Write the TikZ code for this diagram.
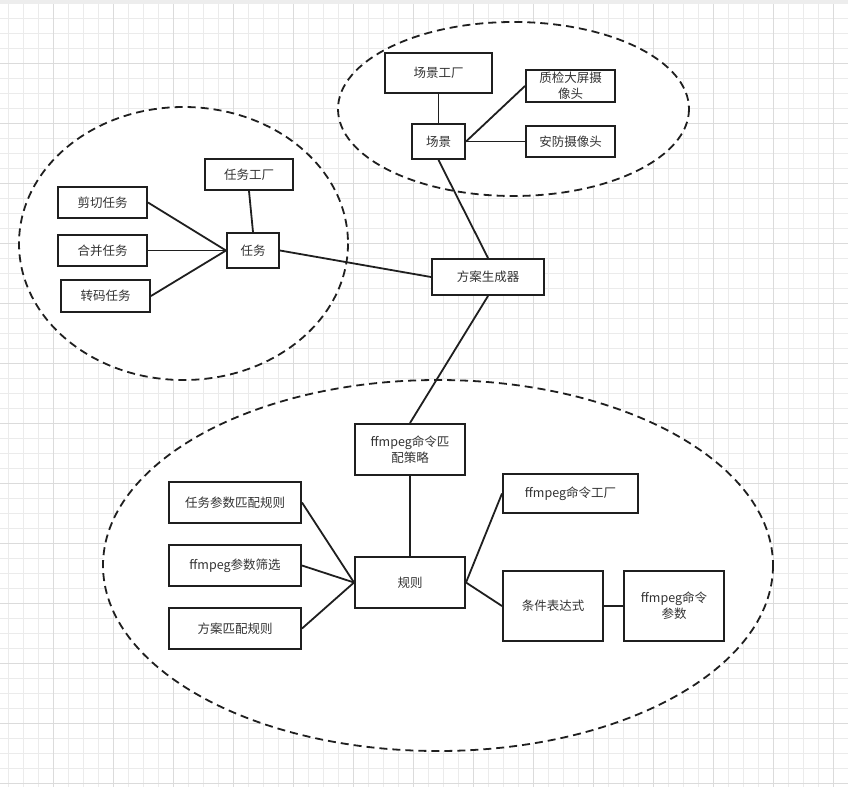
\documentclass[tikz,border=0pt]{standalone}
\usepackage{fontspec}
\setmainfont{Noto Sans CJK SC}
\begin{document}
\begin{tikzpicture}[x=1pt,y=-1pt,
  gridlight/.style={draw=black!8, line width=0.8pt},
  griddark/.style={draw=black!14, line width=0.8pt},
  box/.style={draw=black!88, line width=2pt, fill=white, inner sep=1pt, align=center,
    text=black!80, font=\fontsize{12.5}{16}\selectfont},
  link/.style={draw=black!88, line width=1.8pt},
  group/.style={draw=black!88, line width=1.8pt, dash pattern=on 8pt off 5pt}]
\useasboundingbox (0,0) rectangle (848,787);
\fill[white] (0,0) rectangle (848,787);
% grid
\foreach \x in {8,23,...,848} \draw[gridlight] (\x,0) -- (\x,787);
\foreach \y in {3,18,...,787} \draw[gridlight] (0,\y) -- (848,\y);
\foreach \x in {53,113,...,848} \draw[griddark] (\x,0) -- (\x,787);
\foreach \y in {63,123,...,787} \draw[griddark] (0,\y) -- (848,\y);
\fill[black!7] (0,0) rectangle (848,4);
% groups
\draw[group, fill=white] (513.5,109) ellipse [x radius=175.5, y radius=87];
\draw[group, fill=white] (183.5,243.5) ellipse [x radius=164.5, y radius=136.5];
\draw[group, fill=white] (438,565.5) ellipse [x radius=335, y radius=185.5];
% nodes
\node[box, minimum width=107pt, minimum height=40pt] (cjgc) at (438.5,73) {场景工厂};
\node[box, minimum width=89pt, minimum height=32pt] (zj) at (570.5,86) {质检大屏摄\\像头};
\node[box, minimum width=53pt, minimum height=35pt] (cj) at (438.5,141.5) {场景};
\node[box, minimum width=89pt, minimum height=31pt] (af) at (570.5,141.5) {安防摄像头};
\node[box, minimum width=88pt, minimum height=31pt] (rwgc) at (249,174.5) {任务工厂};
\node[box, minimum width=89pt, minimum height=31pt] (jq) at (102.5,202.5) {剪切任务};
\node[box, minimum width=89pt, minimum height=31pt] (hb) at (102.5,250.5) {合并任务};
\node[box, minimum width=52pt, minimum height=35pt] (rw) at (253,250.5) {任务};
\node[box, minimum width=89pt, minimum height=32pt] (zm) at (105.5,296) {转码任务};
\node[box, minimum width=112pt, minimum height=36pt] (fa) at (488,277) {方案生成器};
\node[box, minimum width=110pt, minimum height=51pt] (cl) at (410,449.5) {ffmpeg命令匹\\配策略};
\node[box, minimum width=135pt, minimum height=39pt] (mlgc) at (570.5,493.5) {ffmpeg命令工厂};
\node[box, minimum width=132pt, minimum height=41pt] (rwcs) at (235,502.5) {任务参数匹配规则};
\node[box, minimum width=132pt, minimum height=41pt] (cssx) at (235,565.5) {ffmpeg参数筛选};
\node[box, minimum width=110pt, minimum height=51pt] (gz) at (410,582.5) {规则};
\node[box, minimum width=132pt, minimum height=41pt] (fapp) at (235,628.5) {方案匹配规则};
\node[box, minimum width=100pt, minimum height=70pt] (tj) at (553,606) {条件表达式};
\node[box, minimum width=100pt, minimum height=70pt] (mlcs) at (674,606) {ffmpeg命令\\参数};
% connectors
\draw[link] (cjgc.south) -- (cj.north);
\draw[link] (cj.east) -- (zj.west);
\draw[link] (cj.east) -- (af.west);
\draw[link] (cj.south) -- (fa.north);
\draw[link] (rwgc.south) -- (rw.north);
\draw[link] (jq.east) -- (rw.west);
\draw[link] (hb.east) -- (rw.west);
\draw[link] (zm.east) -- (rw.west);
\draw[link] (rw.east) -- (fa.west);
\draw[link] (fa.south) -- (cl.north);
\draw[link] (cl.south) -- (gz.north);
\draw[link] (rwcs.east) -- (gz.west);
\draw[link] (cssx.east) -- (gz.west);
\draw[link] (fapp.east) -- (gz.west);
\draw[link] (gz.east) -- (mlgc.west);
\draw[link] (gz.east) -- (tj.west);
\draw[link] (tj.east) -- (mlcs.west);
\end{tikzpicture}
\end{document}
